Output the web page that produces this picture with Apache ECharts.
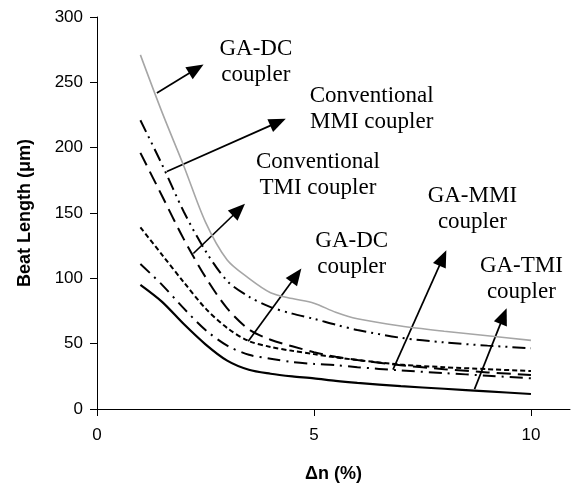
<!DOCTYPE html>
<html>
<head>
<meta charset="utf-8">
<script src="https://cdn.jsdelivr.net/npm/echarts@6/dist/echarts.min.js"></script>
<style>
  html, body { margin: 0; padding: 0; background: #fff; }
  #chart { width: 575px; height: 488px; }
</style>
</head>
<body>
<div id="chart"></div>
<script>
// Refractive-index contrast (%) sampled for every coupler curve
const deltaN = [1, 1.5, 2, 2.5, 3, 3.5, 4, 4.5, 5, 5.5, 6, 7, 8, 9, 10];

// Beat length (µm) for each coupler design
const gaDcUpper   = [271, 227, 186, 143, 114, 100, 89, 84.5, 81, 74, 69, 63.5, 59.5, 56, 52.5];
const convMmi     = [221, 187, 151, 121, 98, 86, 78, 73, 69, 64.5, 60.5, 54.5, 51, 48.5, 46.5];
const convTmi     = [196, 163, 130, 101, 77, 61, 53, 48, 43.5, 40, 37.5, 33.5, 30.5, 28, 26];
const gaDcLower   = [139, 118, 97, 77, 62, 52, 47.5, 44.5, 42, 39.5, 37.5, 34, 32, 30.5, 29];
const gaMmi       = [111, 95, 77, 60.5, 48.5, 41.5, 38.5, 36, 34.5, 33.5, 32, 29.5, 27.5, 25.5, 23.5];
const gaTmi       = [95, 82, 65, 49.5, 37, 30, 27, 25, 23.5, 21.5, 20, 17.5, 15.5, 13.5, 11.5];

// Axis tick labels
const xTicks = [0, 5, 10];
const yTicks = [0, 50, 100, 150, 200, 250, 300];

// Callout texts and their anchor points (data coordinates)
const calloutTexts = [
  'GA-DC\ncoupler',
  'Conventional\nMMI coupler',
  'Conventional\nTMI coupler',
  'GA-DC\ncoupler',
  'GA-MMI\ncoupler',
  'GA-TMI\ncoupler'
];
const calloutPos = [
  [3.66, 265.6],
  [6.33, 229.9],
  [5.09, 179.0],
  [5.87, 119.0],
  [8.65, 152.8],
  [9.78, 99.6]
];
// Arrows: [fromX, fromY, toX, toY]
const arrows = [
  [1.38, 241.8, 2.455, 263.7],
  [1.61, 181.8, 4.35, 222.1],
  [2.22, 119.0, 3.41, 157.0],
  [3.485, 51.9, 4.71, 107.6],
  [6.82, 30.2, 8.05, 121.5],
  [8.70, 15.2, 9.44, 77.2]
];

const pairs = ys => deltaN.map((x, i) => [x, ys[i]]);

function curve(name, ys, color, width, dash) {
  return {
    name, type: 'line', data: pairs(ys), smooth: 0.3,
    showSymbol: false, symbol: 'none', silent: true,
    lineStyle: { color, width, type: dash }
  };
}

const chart = echarts.init(document.getElementById('chart'), null, { renderer: 'canvas' });

chart.setOption({
  animation: false,
  backgroundColor: '#ffffff',
  grid: { left: 97, right: 5, top: 17, bottom: 76, containLabel: false },
  xAxis: {
    type: 'value', min: 0, max: 10.9, interval: 5,
    name: 'Δn (%)', nameLocation: 'middle', nameGap: 56,
    nameTextStyle: { fontFamily: 'Liberation Sans', fontWeight: 'bold', fontSize: 18, color: '#000' },
    axisLine: { show: true, lineStyle: { color: '#000', width: 1 } },
    axisTick: { show: true, length: 7, inside: false, customValues: xTicks, lineStyle: { color: '#000' } },
    axisLabel: { customValues: xTicks, margin: 18, fontFamily: 'Liberation Sans', fontSize: 17, color: '#000' },
    splitLine: { show: false }
  },
  yAxis: {
    type: 'value', min: 0, max: 300, interval: 50,
    name: 'Beat Length (μm)', nameLocation: 'middle', nameGap: 63, nameRotate: 90,
    nameTextStyle: { fontFamily: 'Liberation Sans', fontWeight: 'bold', fontSize: 18, color: '#000' },
    axisLine: { show: true, lineStyle: { color: '#000', width: 1 } },
    axisTick: { show: true, length: 7, inside: false, customValues: yTicks, lineStyle: { color: '#000' } },
    axisLabel: { customValues: yTicks, margin: 14, fontFamily: 'Liberation Sans', fontSize: 17, color: '#000' },
    splitLine: { show: false }
  },
  series: [
    curve('GA-DC coupler (upper)', gaDcUpper, '#a6a6a6', 1.6, 'solid'),
    curve('Conventional MMI coupler', convMmi, '#000', 2, [13, 5, 2, 5, 2, 5]),
    curve('Conventional TMI coupler', convTmi, '#000', 2, [14, 7]),
    curve('GA-DC coupler (lower)', gaDcLower, '#000', 2, [5, 3]),
    curve('GA-MMI coupler', gaMmi, '#000', 2, [13, 6, 2, 6]),
    curve('GA-TMI coupler', gaTmi, '#000', 2.2, 'solid'),
    {
      name: 'arrows', type: 'custom', silent: true, clip: false,
      data: arrows,
      encode: { x: [0, 2], y: [1, 3] },
      renderItem(params, api) {
        const p0 = api.coord([api.value(0), api.value(1)]);
        const p1 = api.coord([api.value(2), api.value(3)]);
        const dx = p1[0] - p0[0], dy = p1[1] - p0[1];
        const len = Math.hypot(dx, dy);
        const ux = dx / len, uy = dy / len;
        const hl = 17, hw = 7;
        const bx = p1[0] - ux * hl, by = p1[1] - uy * hl;
        return {
          type: 'group',
          children: [
            { type: 'line', shape: { x1: p0[0], y1: p0[1], x2: bx + ux * 2, y2: by + uy * 2 },
              style: { stroke: '#000', lineWidth: 1.7 } },
            { type: 'polygon',
              shape: { points: [[p1[0], p1[1]], [bx - uy * hw, by + ux * hw], [bx + uy * hw, by - ux * hw]] },
              style: { fill: '#000' } }
          ]
        };
      }
    },
    {
      name: 'callouts', type: 'custom', silent: true, clip: false,
      data: calloutPos,
      encode: { x: 0, y: 1 },
      renderItem(params, api) {
        const p = api.coord([api.value(0), api.value(1)]);
        return {
          type: 'text', x: p[0], y: p[1],
          style: {
            text: calloutTexts[params.dataIndex],
            fontFamily: 'Liberation Serif', fontSize: 23, lineHeight: 26,
            align: 'center', verticalAlign: 'middle', fill: '#000'
          }
        };
      }
    }
  ]
});
</script>
</body>
</html>
